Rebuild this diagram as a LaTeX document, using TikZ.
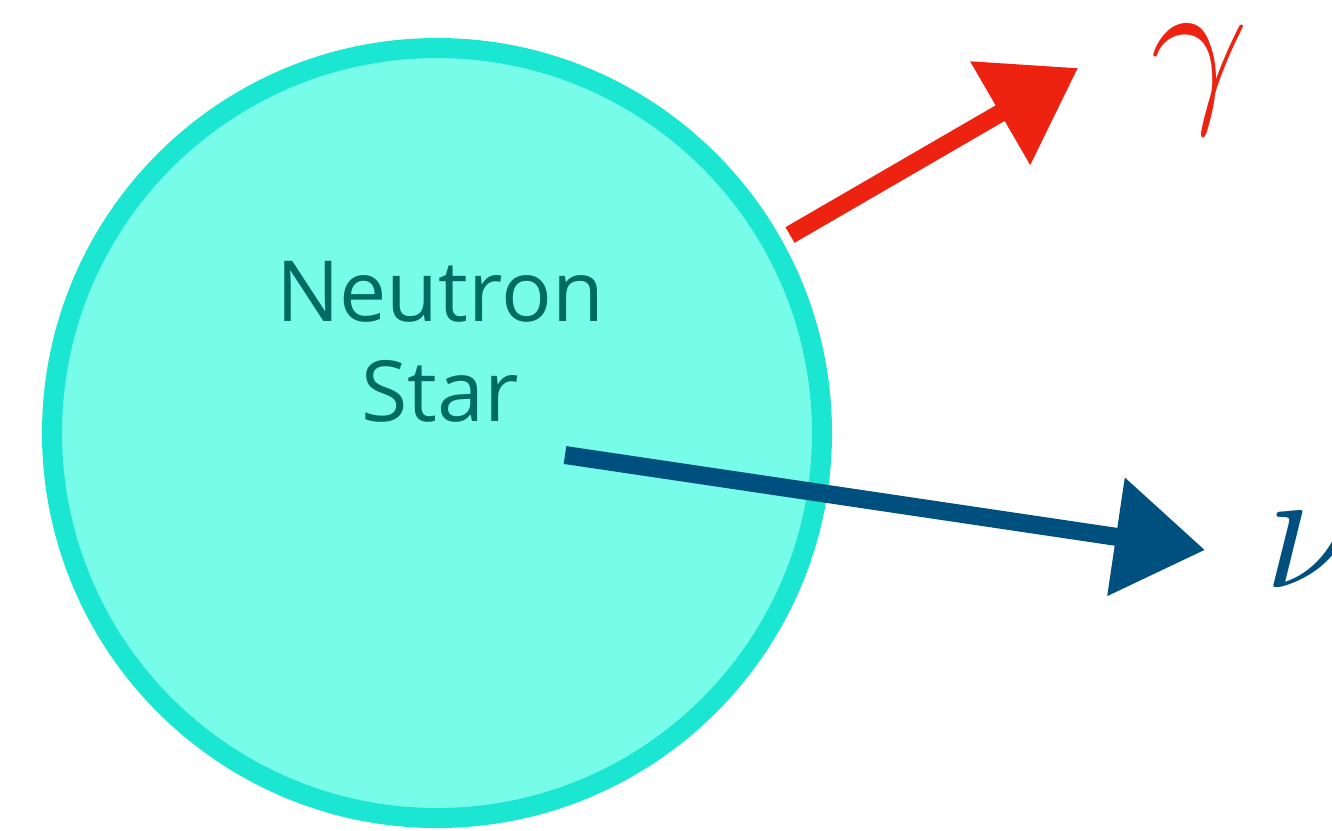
\documentclass[tikz,border=0pt]{standalone}
\usepackage{fontspec}
\usepackage{graphicx}
\setsansfont{Open Sans}
\usetikzlibrary{arrows.meta, positioning}
\definecolor{starfill}{RGB}{118, 252, 232}
\definecolor{starline}{RGB}{26, 230, 210}
\definecolor{startext}{RGB}{0, 107, 99}
\definecolor{gammared}{RGB}{238, 34, 17}
\definecolor{nublue}{RGB}{0, 80, 127}
\newcommand{\bigparticle}[1]{\scalebox{2.0}{$#1$}}

\begin{document}
\begin{tikzpicture}[
    star/.style={circle, draw=starline, fill=starfill, line width=2mm,
                 minimum size=7.7cm, inner sep=0pt},
    starlbl/.style={align=center, text=startext, font=\sffamily\fontsize{24}{28.5}\selectfont},
    ray/.style={line width=1.8mm, -{Triangle[length=9mm, width=11.5mm]}},
    particle/.style={inner sep=0pt, font=\Huge}
]
\useasboundingbox (0,0) rectangle (13.32,8.30);

\node[star] (ns) at (4.37, 3.97) {};
\node[starlbl] (nslbl) at (4.40, 4.88) {Neutron\\Star};

% Ray endpoints
\coordinate (gstart) at (7.90, 5.95);
\coordinate (gtip)   at (10.78, 7.62);
\coordinate (nstart) at (5.65, 3.75);
\coordinate (ntip)   at (12.05, 2.80);

% Particles
\node[particle, text=gammared] (gamma) at (12.00, 7.50) {\bigparticle{\gamma}};
\node[particle, text=nublue]   (nu)    at (13.12, 2.80) {\bigparticle{\nu}};

\draw[ray, gammared] (gstart) -- (gtip);
\draw[ray, nublue]   (nstart) -- (ntip);

\end{tikzpicture}
\end{document}
